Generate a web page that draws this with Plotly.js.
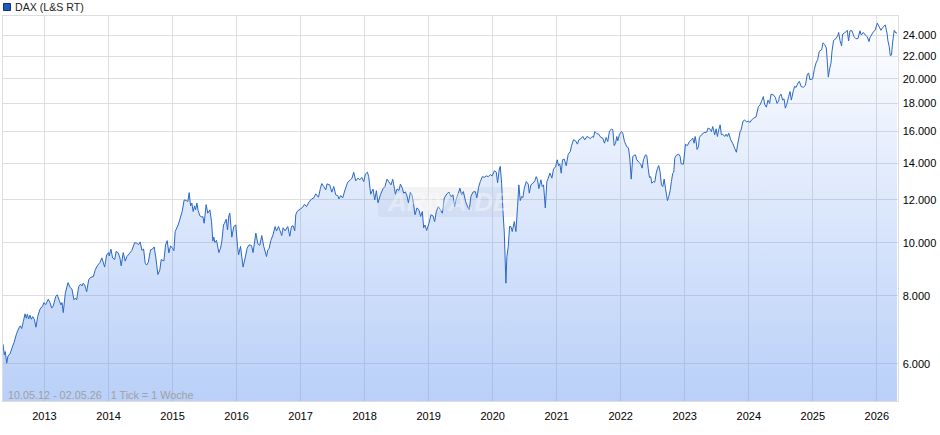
<!DOCTYPE html>
<html><head><meta charset="utf-8">
<script src="https://cdn.plot.ly/plotly-3.0.1.min.js"></script>
<style>html,body{margin:0;padding:0;background:#fff}</style></head>
<body><div id="c" style="width:940px;height:435px"></div>
<script>
// [fraction of year, index level]
const y2012=[[.352,6520],[.373,6235],[.388,6320],[.410,6018],[.430,6207],[.462,6259],[.497,6438],[.524,6566],[.566,6830],[.607,7005],[.622,7045],[.644,6966],[.669,7173],[.696,7410],[.716,7276],[.732,7400],[.753,7255],[.774,7370],[.794,7245],[.816,7325],[.841,7245],[.867,7005],[.894,7325],[.930,7560],[.972,7665],[.992,7772]];
const y2013=[[.019,7707],[.059,7885],[.086,7772],[.112,7595],[.137,7665],[.175,7975],[.200,8030],[.231,7840],[.257,7695],[.273,7772],[.293,7450],[.325,8085],[.367,8455],[.398,8295],[.429,8225],[.460,7865],[.481,7920],[.502,7865],[.534,8315],[.565,8400],[.585,8340],[.605,8435],[.627,8375],[.659,8140],[.690,8555],[.721,8650],[.762,8670],[.793,8925],[.824,9075],[.866,9205],[.897,9385],[.939,9030],[.971,9505]];
const y2014=[[.002,9600],[.011,9465],[.038,9735],[.064,9385],[.096,9320],[.120,9650],[.152,9585],[.178,9385],[.198,9075],[.230,9600],[.261,9260],[.287,9440],[.323,9546],[.334,9585],[.365,9690],[.408,10010],[.439,9985],[.470,9930],[.495,10040],[.522,9690],[.548,9745],[.573,9180],[.595,9105],[.620,9205],[.657,9710],[.688,9745],[.713,9830],[.740,9385],[.771,8750],[.802,8925],[.823,9320],[.865,9265],[.891,9915],[.916,10095],[.943,9585],[.969,9875]];
const y2015=[[.000,9780],[.021,9680],[.041,10490],[.088,10785],[.115,11050],[.150,11415],[.182,11990],[.219,11955],[.239,11905],[.260,12365],[.282,11690],[.302,11825],[.322,11415],[.344,11690],[.360,11495],[.380,11825],[.400,11460],[.427,11210],[.458,11150],[.473,11180],[.494,10865],[.525,11750],[.551,11335],[.583,11495],[.609,10940],[.630,10075],[.645,10245],[.661,10015],[.687,10110],[.723,9600],[.750,9780],[.770,10075],[.796,10785],[.812,10865],[.837,11050],[.859,10560],[.879,11210],[.895,11335],[.926,10245],[.957,10715],[.988,10785]];
const y2016=[[.015,9850],[.031,9505],[.062,9850],[.102,9030],[.134,9385],[.165,9780],[.196,9915],[.233,9890],[.258,9600],[.301,10420],[.332,9958],[.363,9900],[.394,10315],[.425,9850],[.468,9440],[.488,9710],[.508,9755],[.535,10095],[.571,10360],[.602,10715],[.624,10515],[.655,10715],[.675,10560],[.706,10315],[.727,10660],[.758,10525],[.800,10715],[.831,10285],[.858,10715],[.883,10750],[.909,10525],[.925,11260],[.945,11415],[.998,11545]];
const y2017=[[.029,11610],[.061,11770],[.092,11655],[.132,11885],[.174,12040],[.206,12090],[.237,12298],[.279,12125],[.310,12595],[.331,12845],[.362,12685],[.393,12505],[.413,12828],[.455,12775],[.487,12390],[.518,12685],[.549,12245],[.580,12210],[.600,12040],[.627,12210],[.658,12090],[.694,12505],[.736,12920],[.778,13050],[.803,13145],[.830,13475],[.861,12995],[.897,13145],[.923,13050],[.955,13180],[.986,12955]];
const y2018=[[.012,13365],[.044,13475],[.064,13225],[.095,12280],[.131,12550],[.158,11990],[.184,12465],[.209,11845],[.247,12245],[.287,12575],[.318,12685],[.350,13090],[.381,12930],[.412,12775],[.439,13080],[.465,12595],[.481,12280],[.506,12550],[.537,12480],[.559,12815],[.590,12595],[.610,12335],[.637,12400],[.662,12195],[.684,11845],[.715,12365],[.740,12245],[.766,11750],[.787,11260],[.818,11590],[.849,11495],[.875,11180],[.902,11415],[.922,10660],[.942,10785],[.969,10540]];
const y2019=[[.005,10865],[.036,11260],[.067,11210],[.094,10940],[.120,11415],[.152,11655],[.183,11495],[.214,11335],[.245,12090],[.286,12298],[.317,12390],[.348,12160],[.380,12245],[.406,11655],[.432,12040],[.464,12335],[.489,12595],[.515,12245],[.542,12420],[.578,11905],[.604,11690],[.635,11495],[.660,12160],[.692,12390],[.729,12420],[.754,12090],[.780,12640],[.807,12955],[.838,13225],[.869,13190],[.900,13270],[.932,13225],[.963,13340],[.994,13270]];
const y2020=[[.026,13560],[.057,13475],[.077,12895],[.104,13660],[.119,13815],[.140,12865],[.160,11495],[.182,10420],[.207,8435],[.222,9440],[.244,9850],[.264,10715],[.285,10715],[.306,10490],[.338,10940],[.363,10490],[.389,11655],[.409,12775],[.431,11955],[.452,12160],[.472,12105],[.494,12595],[.525,12955],[.556,12815],[.572,12335],[.597,12775],[.628,12865],[.659,12995],[.681,13225],[.701,13050],[.722,12575],[.753,13050],[.774,12685],[.795,12775],[.822,11590],[.847,12955],[.869,13145],[.894,13420],[.925,13145],[.951,13660],[.983,13790]];
const y2021=[[.009,14200],[.029,13850],[.049,13960],[.071,13420],[.091,14200],[.118,14240],[.149,13845],[.180,14540],[.212,14700],[.232,15075],[.263,15450],[.294,15385],[.325,15170],[.346,15450],[.377,15520],[.408,15670],[.439,15450],[.471,15670],[.502,15605],[.524,15520],[.555,15670],[.575,15605],[.595,16000],[.627,15860],[.658,15820],[.689,15605],[.720,15560],[.747,15230],[.773,15605],[.798,15340],[.825,16040],[.856,16160],[.876,16130],[.898,15075],[.919,15230],[.939,15670],[.955,15385],[.981,15820]];
const y2022=[[.012,16000],[.032,15890],[.059,15340],[.095,15000],[.121,14935],[.142,14295],[.164,13090],[.189,14405],[.210,14465],[.231,14500],[.251,14200],[.282,14060],[.313,13945],[.335,13710],[.355,14200],[.387,14500],[.407,14465],[.429,13710],[.449,13180],[.469,13225],[.485,12865],[.512,12955],[.532,12920],[.554,13420],[.574,13690],[.594,13860],[.616,13475],[.636,12775],[.657,12685],[.679,13090],[.699,12595],[.730,11955],[.750,12160],[.772,12465],[.792,12955],[.813,13420],[.829,13475],[.844,14295],[.866,14465],[.906,14540],[.928,14405],[.944,13960],[.980,13945]];
const y2023=[[.011,15170],[.042,15075],[.073,15340],[.105,15450],[.125,15560],[.147,15230],[.162,15670],[.178,15340],[.193,14830],[.214,15000],[.229,15605],[.261,15780],[.303,15930],[.343,15955],[.365,16240],[.396,16160],[.417,16000],[.437,16340],[.468,15780],[.490,16185],[.510,15670],[.531,16110],[.553,16455],[.573,15780],[.593,15820],[.624,15670],[.646,15820],[.666,15670],[.687,15890],[.718,15450],[.749,15230],[.780,14910],[.807,14660],[.827,15170],[.865,16000],[.880,16110],[.911,16720],[.936,16790],[.968,16670],[.990,16720]];
const y2024=[[.021,16630],[.041,16790],[.072,16910],[.114,17025],[.150,17770],[.177,17905],[.202,18210],[.228,18545],[.248,17960],[.275,17730],[.301,18270],[.326,18015],[.348,18735],[.384,18680],[.415,18480],[.442,18015],[.467,18210],[.478,18545],[.504,18735],[.529,18270],[.551,18370],[.571,17660],[.591,17905],[.623,18545],[.645,18945],[.665,18270],[.696,19000],[.717,19360],[.739,19280],[.770,19640],[.790,19775],[.817,19360],[.852,19280],[.884,19440],[.915,20390],[.935,20480],[.957,19905],[.998,19990]];
const y2025=[[.024,20790],[.051,21375],[.076,21670],[.102,22450],[.138,22600],[.160,23270],[.185,23100],[.211,22780],[.227,21500],[.243,20130],[.263,20850],[.285,21375],[.300,22450],[.325,23500],[.363,23690],[.394,24050],[.404,24310],[.425,23500],[.450,22970],[.466,24130],[.497,24250],[.539,24530],[.559,23460],[.581,24480],[.612,24480],[.644,23880],[.675,23670],[.706,23690],[.737,24480],[.757,24050],[.789,24310],[.820,24050],[.851,23880],[.878,23390],[.893,23770],[.934,24250],[.976,24575]];
const y2026=[[.007,25280],[.038,24880],[.065,24530],[.090,24800],[.132,25100],[.159,24250],[.174,23460],[.194,22910],[.210,22050],[.230,22100],[.246,23270],[.272,24530],[.299,24250],[.315,24250]];
const yearData=[[2012,y2012],[2013,y2013],[2014,y2014],[2015,y2015],[2016,y2016],[2017,y2017],[2018,y2018],[2019,y2019],[2020,y2020],[2021,y2021],[2022,y2022],[2023,y2023],[2024,y2024],[2025,y2025],[2026,y2026]];
const xYears=[2013,2014,2015,2016,2017,2018,2019,2020,2021,2022,2023,2024,2025,2026];
const yTicks=[6000,8000,10000,12000,14000,16000,18000,20000,22000,24000];
const yLabels=['6.000','8.000','10.000','12.000','14.000','16.000','18.000','20.000','22.000','24.000'];
const seriesName='DAX (L&S RT)';
const footer='10.05.12 - 02.05.26   1 Tick = 1 Woche';

const x=[],y=[];
yearData.forEach(([yr,pts])=>pts.forEach(([f,v])=>{x.push(yr+f);y.push(v);}));

const W=940,H=435,L=3,R=898.5,T=16,B=401;
const px=v=>(v-L)/(R-L), py=v=>(B-v)/(B-T);
const font='"Liberation Sans",Arial,sans-serif';
const wm=[378,518,187,217],r=5;
const wmPath=`M ${px(wm[0]+r)} ${py(wm[2])} L ${px(wm[1]-r)} ${py(wm[2])} Q ${px(wm[1])} ${py(wm[2])} ${px(wm[1])} ${py(wm[2]+r)} L ${px(wm[1])} ${py(wm[3]-r)} Q ${px(wm[1])} ${py(wm[3])} ${px(wm[1]-r)} ${py(wm[3])} L ${px(wm[0]+r)} ${py(wm[3])} Q ${px(wm[0])} ${py(wm[3])} ${px(wm[0])} ${py(wm[3]-r)} L ${px(wm[0])} ${py(wm[2]+r)} Q ${px(wm[0])} ${py(wm[2])} ${px(wm[0]+r)} ${py(wm[2])} Z`;

Plotly.newPlot('c',[{
  x:x,y:y,type:'scatter',mode:'lines',name:seriesName,
  line:{color:'#2a68c6',width:1,simplify:false},
  fill:'tozeroy',
  fillgradient:{type:'vertical',start:26057,stop:5130,
    colorscale:[[0,'rgba(100,150,240,0)'],[1,'rgba(100,150,240,0.45)']]},
  hoverinfo:'skip'
}],{
  width:W,height:H,autosize:false,showlegend:false,
  margin:{l:L,r:W-R,t:T,b:H-B,pad:0},
  paper_bgcolor:'#fff',plot_bgcolor:'#fff',
  font:{family:font,size:11,color:'#000'},
  xaxis:{type:'linear',range:[2012.352,2026.331],tickvals:xYears,ticktext:xYears.map(String),
    showgrid:true,gridcolor:'#dedede',gridwidth:1,zeroline:false,showline:true,linecolor:'#dedede',linewidth:1,mirror:true,
    ticks:'outside',ticklen:5,tickcolor:'rgba(0,0,0,0)',tickfont:{family:font,size:11,color:'#000'}},
  yaxis:{type:'log',range:[Math.log10(5130),Math.log10(26057)],side:'right',tickvals:yTicks,ticktext:yLabels,
    showgrid:true,gridcolor:'#dedede',gridwidth:1,zeroline:false,showline:true,linecolor:'#dedede',linewidth:1,mirror:true,
    ticks:'outside',ticklen:1.5,tickcolor:'rgba(0,0,0,0)',tickfont:{family:font,size:11,color:'#000'}},
  shapes:[
    {type:'path',xref:'paper',yref:'paper',path:wmPath,fillcolor:'rgba(120,125,140,0.09)',line:{width:0},layer:'below'},
    {type:'rect',xref:'paper',yref:'paper',x0:px(3.5),x1:px(10.5),y0:py(3.5),y1:py(10.5),fillcolor:'#1a5cc0',line:{color:'#12306e',width:1}}
  ],
  annotations:[
    {xref:'paper',yref:'paper',x:px(449),y:py(202),text:'<b><i>ARIVA.DE</i></b>',showarrow:false,xanchor:'center',yanchor:'middle',font:{family:font,size:26,color:'rgba(255,255,255,0.35)'}},
    {xref:'paper',yref:'paper',x:px(15),y:py(6.5),text:seriesName.replace('&','&amp;'),showarrow:false,xanchor:'left',yanchor:'middle',xshift:-2,font:{family:font,size:10.6,color:'#222'}},
    {xref:'paper',yref:'paper',x:px(8),y:py(395),text:footer.replace(/ {3}/g,'&nbsp;&nbsp;&nbsp;'),showarrow:false,xanchor:'left',yanchor:'middle',xshift:-2,font:{family:font,size:10.8,color:'#a0a0a0'}}
  ]
},{staticPlot:true,displayModeBar:false});
</script></body></html>
